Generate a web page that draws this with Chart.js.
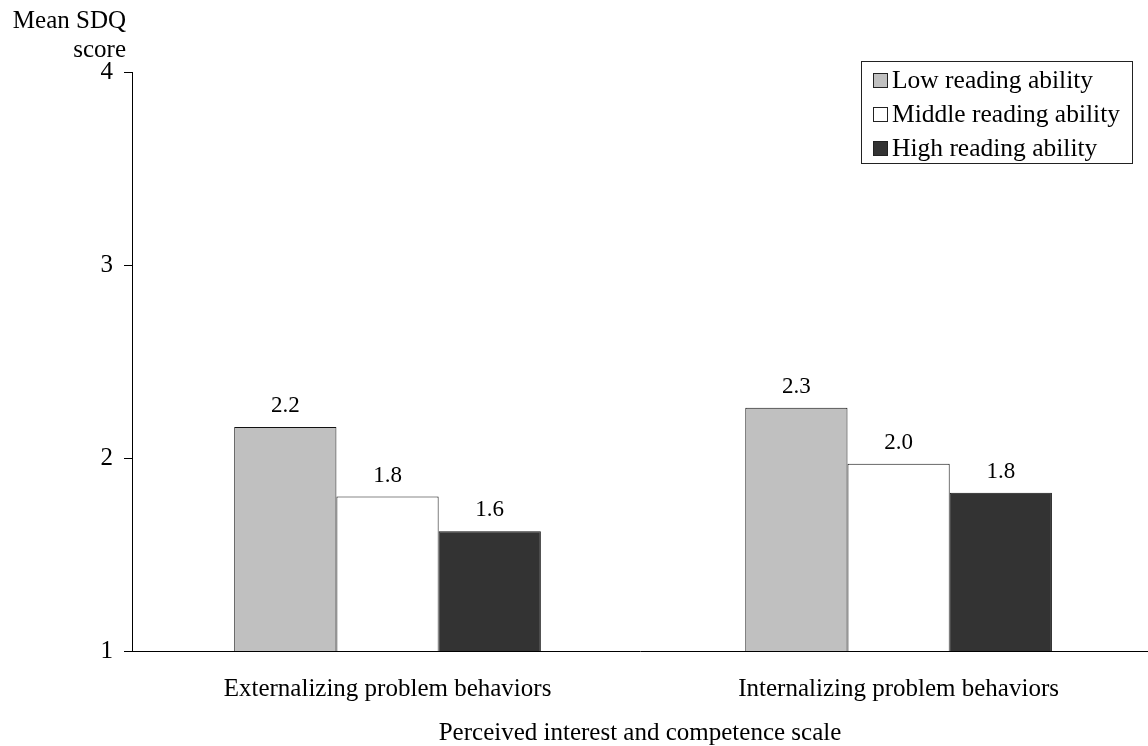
<!DOCTYPE html>
<html>
<head>
<meta charset="utf-8">
<script src="https://cdn.jsdelivr.net/npm/chart.js@4.4.1/dist/chart.umd.min.js"></script>
<style>
  html, body { margin: 0; padding: 0; background: #ffffff; overflow: hidden; }
  #wrap { width: 1148px; height: 746px; }
</style>
</head>
<body>
<div id="wrap"><canvas id="c" width="1148" height="746"></canvas></div>
<script>
// ---- data ----
const categories = ['Externalizing problem behaviors', 'Internalizing problem behaviors'];
const seriesNames = ['Low reading ability', 'Middle reading ability', 'High reading ability'];
const lowValues = [2.16, 2.26];
const middleValues = [1.80, 1.97];
const highValues = [1.62, 1.82];
const yTicks = [1, 2, 3, 4];
const yTitleLines = ['Mean SDQ', 'score'];
const xTitle = 'Perceived interest and competence scale';

const seriesValues = [lowValues, middleValues, highValues];
const seriesColors = ['#c0c0c0', '#ffffff', '#333333'];
const FONT = '"Liberation Serif", "Times New Roman", serif';

const datasets = seriesNames.map((name, s) => ({
  label: name,
  data: seriesValues[s].map((v, i) => ({ x: i, y: v })),
  backgroundColor: seriesColors[s],
  borderColor: '#111111',
  borderWidth: 1,
  borderSkipped: false,
  categoryPercentage: 0.6,
  barPercentage: 1.0
}));

const valueLabels = {
  id: 'valueLabels',
  afterDatasetsDraw(chart) {
    const ctx = chart.ctx;
    ctx.save();
    ctx.font = '23px ' + FONT;
    ctx.fillStyle = '#000';
    ctx.textAlign = 'center';
    ctx.textBaseline = 'alphabetic';
    chart.data.datasets.forEach((ds, di) => {
      const meta = chart.getDatasetMeta(di);
      meta.data.forEach((el, i) => {
        ctx.fillText(ds.data[i].y.toFixed(1), el.x, el.y - 15);
      });
    });
    ctx.restore();
  }
};

const yTitlePlugin = {
  id: 'yTitle',
  afterDraw(chart) {
    const ctx = chart.ctx;
    ctx.save();
    ctx.font = '25px ' + FONT;
    ctx.fillStyle = '#000';
    ctx.textAlign = 'right';
    ctx.textBaseline = 'alphabetic';
    const x = chart.chartArea.left - 6;
    ctx.fillText(yTitleLines[0], x, 28);
    ctx.fillText(yTitleLines[1], x, 57);
    ctx.restore();
  }
};

const boxLegend = {
  id: 'boxLegend',
  afterDraw(chart) {
    const ctx = chart.ctx;
    const left = 861, top = 61, w = 271, h = 102;
    ctx.save();
    ctx.fillStyle = '#fff';
    ctx.fillRect(left, top, w, h);
    ctx.strokeStyle = '#222';
    ctx.lineWidth = 1;
    ctx.strokeRect(left + 0.5, top + 0.5, w, h);
    ctx.font = '25.5px ' + FONT;
    ctx.textAlign = 'left';
    ctx.textBaseline = 'middle';
    chart.data.datasets.forEach((ds, i) => {
      const cy = top + 19 + i * 34;
      ctx.fillStyle = ds.backgroundColor;
      ctx.fillRect(873, cy - 7, 15, 15);
      ctx.strokeStyle = '#222';
      ctx.strokeRect(873.5, cy - 6.5, 14, 14);
      ctx.fillStyle = '#000';
      ctx.fillText(ds.label, 892, cy + 1);
    });
    ctx.restore();
  }
};

new Chart(document.getElementById('c'), {
  type: 'bar',
  data: { datasets },
  plugins: [valueLabels, yTitlePlugin, boxLegend],
  options: {
    responsive: false,
    animation: false,
    layout: { padding: { top: 72, left: 0, right: 0, bottom: 0 } },
    plugins: {
      legend: { display: false },
      tooltip: { enabled: false }
    },
    scales: {
      x: {
        type: 'linear',
        offset: false,
        min: -0.5,
        max: 1.488,
        afterBuildTicks(scale) { scale.ticks = categories.map((c, i) => ({ value: i })); },
        afterFit(scale) { scale.height = 95; },
        ticks: {
          autoSkip: false,
          maxRotation: 0,
          padding: 23,
          color: '#000',
          font: { family: FONT, size: 25 },
          callback: (v) => categories[Math.round(v)]
        },
        grid: { offset: false, drawOnChartArea: false, drawTicks: false },
        border: { display: true, color: '#000', width: 1 },
        title: {
          display: true,
          text: xTitle,
          color: '#000',
          font: { family: FONT, size: 25 },
          padding: { top: 0, bottom: -2 }
        }
      },
      y: {
        min: 1,
        max: 4,
        afterBuildTicks(scale) { scale.ticks = yTicks.map(v => ({ value: v })); },
        afterFit(scale) { scale.width = 132; },
        ticks: {
          padding: 11,
          color: '#000',
          font: { family: FONT, size: 25 }
        },
        grid: { drawOnChartArea: false, drawTicks: true, tickLength: 8, tickColor: '#000' },
        border: { display: true, color: '#000', width: 1 }
      }
    }
  }
});
</script>
</body>
</html>
